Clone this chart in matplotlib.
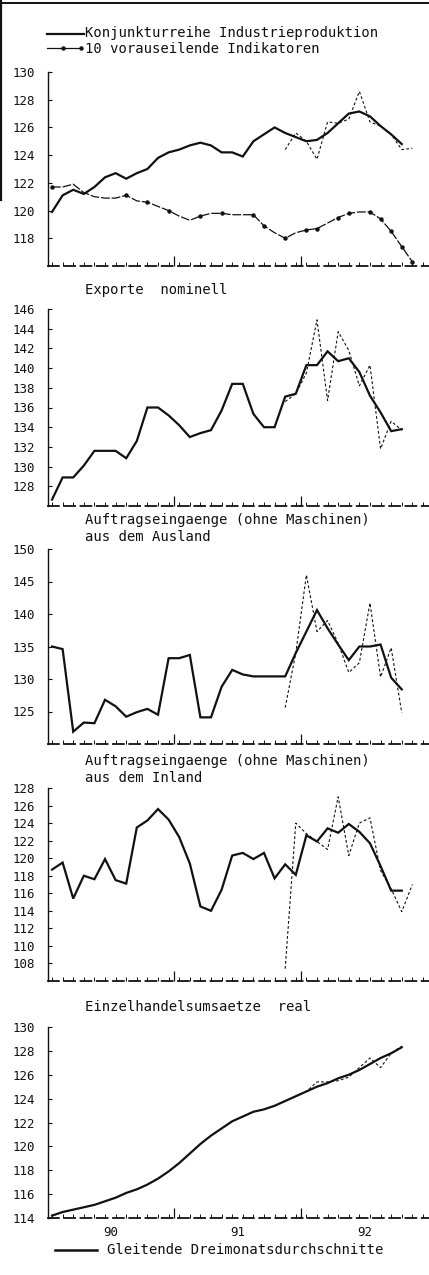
import numpy as np
import matplotlib
matplotlib.use("Agg")
import matplotlib.pyplot as plt
from matplotlib.lines import Line2D
from matplotlib.ticker import FixedLocator, MultipleLocator, NullFormatter
import matplotlib.transforms as mtransforms

# ---------------- data (months: 0 = Jan 1990) ----------------
ip_ma = [119.9, 121.1, 121.5, 121.2, 121.7, 122.4, 122.7, 122.3, 122.7, 123.0,
         123.8, 124.2, 124.4, 124.7, 124.9, 124.7, 124.2, 124.2, 123.9, 125.0,
         125.5, 126.0, 125.6, 125.3, 125.0, 125.1, 125.6, 126.3, 127.0, 127.15,
         126.8, 126.1, 125.5, 124.8]
ip_raw = [124.4, 125.6, 125.0, 123.7, 126.4, 126.3, 126.6, 128.6, 126.4, 126.1,
          125.5, 124.4, 124.5]            # from month 22
indicators = [121.7, 121.7, 121.9, 121.3, 121.0, 120.9, 120.9, 121.1, 120.7, 120.6,
              120.3, 120.0, 119.6, 119.3, 119.6, 119.8, 119.8, 119.7, 119.7, 119.7,
              118.9, 118.4, 118.0, 118.4, 118.6, 118.7, 119.1, 119.5, 119.8, 119.9,
              119.9, 119.4, 118.5, 117.4, 116.3]

exp_ma = [126.65, 128.9, 128.9, 130.1, 131.6, 131.6, 131.6, 130.85, 132.6, 136.0,
          136.0, 135.2, 134.2, 133.0, 133.4, 133.7, 135.7, 138.4, 138.4, 135.35,
          134.0, 134.0, 137.1, 137.4, 140.3, 140.3, 141.7, 140.7, 141.0, 139.6,
          137.2, 135.5, 133.6, 133.8]
exp_raw = [136.6, 137.4, 139.5, 144.9, 136.7, 143.7, 141.8, 138.2, 140.3, 131.8,
           134.6, 133.7]                   # from month 22

aus_ma = [135.0, 134.6, 121.9, 123.3, 123.2, 126.8, 125.8, 124.2, 124.9, 125.4,
          124.5, 133.2, 133.2, 133.7, 124.1, 124.1, 128.8, 131.4, 130.7, 130.4,
          130.4, 130.4, 130.4, 134.0, 137.3, 140.6, 137.8, 135.3, 132.9, 135.0,
          135.0, 135.3, 130.2, 128.4]
aus_raw = [125.6, 134.0, 146.0, 137.3, 139.0, 135.5, 131.0, 132.5, 141.7, 130.3,
           134.8, 124.8]                   # from month 22

inl_ma = [118.7, 119.5, 115.4, 118.0, 117.6, 119.9, 117.5, 117.1, 123.5, 124.3,
          125.6, 124.4, 122.4, 119.4, 114.5, 114.0, 116.4, 120.3, 120.6, 119.9,
          120.6, 117.7, 119.3, 118.1, 122.6, 121.9, 123.4, 122.9, 123.9, 123.0,
          121.7, 119.1, 116.3, 116.3]
inl_raw = [107.4, 124.0, 122.8, 121.9, 121.0, 127.0, 120.3, 124.0, 124.6, 118.6,
           116.5, 113.9, 117.0]            # from month 22

ret_ma = [114.2, 114.5, 114.7, 114.9, 115.1, 115.4, 115.7, 116.1, 116.4, 116.8,
          117.3, 117.9, 118.6, 119.4, 120.2, 120.9, 121.5, 122.1, 122.5, 122.9,
          123.1, 123.4, 123.8, 124.2, 124.6, 125.0, 125.3, 125.7, 126.0, 126.4,
          126.9, 127.4, 127.8, 128.3]
ret_raw = [124.2, 124.6, 125.4, 125.4, 125.5, 125.8, 126.6, 127.4, 126.6, 127.8,
           128.4]                          # from month 23

year_labels = ["90", "91", "92"]
titles = [None, ["Exporte  nominell"],
          ["Auftragseingaenge (ohne Maschinen)", "aus dem Ausland"],
          ["Auftragseingaenge (ohne Maschinen)", "aus dem Inland"],
          ["Einzelhandelsumsaetze  real"]]
legend_top = ["Konjunkturreihe Industrieproduktion", "10 vorauseilende Indikatoren"]
legend_bottom = "Gleitende Dreimonatsdurchschnitte"

# ---------------- layout ----------------
W, H = 429, 1275
fig = plt.figure(figsize=(W / 100, H / 100), dpi=100)
MONO = "DejaVu Sans Mono"
INK = "#111111"
TFS = 10


def fx(px):
    return px / W


def fy(py):
    return 1 - py / H


panels = [
    dict(top=72, bot=266, ylim=(116, 130), yt=np.arange(118, 131, 2),
         ma=ip_ma, raw=ip_raw, raw0=22, title_y=None),
    dict(top=309, bot=506, ylim=(126, 146), yt=np.arange(128, 147, 2),
         ma=exp_ma, raw=exp_raw, raw0=22, title_y=[290]),
    dict(top=549, bot=744, ylim=(120, 150), yt=np.arange(125, 151, 5),
         ma=aus_ma, raw=aus_raw, raw0=22, title_y=[520, 537]),
    dict(top=788, bot=981, ylim=(106, 128), yt=np.arange(108, 129, 2),
         ma=inl_ma, raw=inl_raw, raw0=22, title_y=[761, 778]),
    dict(top=1027, bot=1218, ylim=(114, 130), yt=np.arange(114, 131, 2),
         ma=ret_ma, raw=ret_raw, raw0=23, title_y=[1007]),
]

XL, XR = 48, 429
xlim = (-0.38, 35.57)

axes = []
for i, p in enumerate(panels):
    ax = fig.add_axes([fx(XL), fy(p["bot"]), fx(XR - XL), (p["bot"] - p["top"]) / H])
    axes.append(ax)
    ax.set_xlim(*xlim)
    ax.set_ylim(*p["ylim"])
    ax.patch.set_alpha(0)
    for s in ("top", "right"):
        ax.spines[s].set_visible(False)
    ax.spines["left"].set_linewidth(1.0)
    ax.spines["left"].set_color(INK)
    ax.spines["bottom"].set_linewidth(1.3)
    ax.spines["bottom"].set_color(INK)
    ax.spines["bottom"].set_linestyle((0, (6, 3)))

    ax.yaxis.set_major_locator(FixedLocator(p["yt"]))
    ax.tick_params(axis="y", direction="in", length=3, width=0.8, pad=9,
                   labelsize=9, colors=INK)
    for lab in ax.get_yticklabels():
        lab.set_family(MONO)

    ax.xaxis.set_major_locator(FixedLocator([11.5, 23.5]))
    ax.xaxis.set_minor_locator(MultipleLocator(1))
    ax.xaxis.set_major_formatter(NullFormatter())
    ax.tick_params(axis="x", which="major", direction="in", length=7, width=0.9, colors=INK)
    ax.tick_params(axis="x", which="minor", direction="in", length=3, width=0.7, colors=INK)

    m = np.arange(len(p["ma"]))
    ax.plot(m, p["ma"], color=INK, lw=1.6, solid_joinstyle="miter", zorder=3)
    mr = np.arange(p["raw0"], p["raw0"] + len(p["raw"]))
    ax.plot(mr, p["raw"], color=INK, lw=0.8, ls=(0, (2.5, 2)), zorder=2)

    if p["title_y"]:
        for txt, ty in zip(titles[i], p["title_y"]):
            fig.text(fx(85), fy(ty), txt, ha="left", va="center",
                     fontsize=TFS, family=MONO, color=INK)

# indicators in the first panel
ax0 = axes[0]
mi = np.arange(len(indicators))
ax0.plot(mi, indicators, color=INK, lw=0.9, ls=(0, (7, 1.5)), marker="o",
         markersize=2.2, markevery=[0, 7, 9, 11, 14, 16, 19, 20, 22, 24, 25, 27, 28,
                                    30, 31, 32, 33, 34], zorder=3)

# year labels on the last axis
ax5 = axes[-1]
trans = mtransforms.blended_transform_factory(ax5.transData, fig.transFigure)
for k, lab in enumerate(year_labels):
    ax5.text(5.5 + 12 * k, fy(1233), lab, transform=trans, ha="center", va="center",
             fontsize=9, family=MONO, color=INK)

# top legend
fig.add_artist(Line2D([fx(47), fx(84)], [fy(34), fy(34)], color=INK, lw=1.6))
fig.add_artist(Line2D([fx(47), fx(63), fx(81)], [fy(48)] * 3, color=INK, lw=0.9,
                      marker="o", markersize=2.2, markevery=[1, 2]))
fig.text(fx(85), fy(33), legend_top[0], ha="left", va="center", fontsize=TFS,
         family=MONO, color=INK)
fig.text(fx(85), fy(49), legend_top[1], ha="left", va="center", fontsize=TFS,
         family=MONO, color=INK)

# bottom legend
fig.add_artist(Line2D([fx(55), fx(97)], [fy(1250), fy(1250)], color=INK, lw=1.8))
fig.text(fx(107), fy(1250), legend_bottom, ha="left", va="center", fontsize=TFS,
         family=MONO, color=INK)

# scan border remnants
fig.add_artist(Line2D([0, 1], [fy(3), fy(3)], color=INK, lw=1.4))
fig.add_artist(Line2D([fx(1), fx(1)], [fy(0), fy(200)], color=INK, lw=1.6))

fig.savefig("out.png", dpi=100, facecolor="white")
